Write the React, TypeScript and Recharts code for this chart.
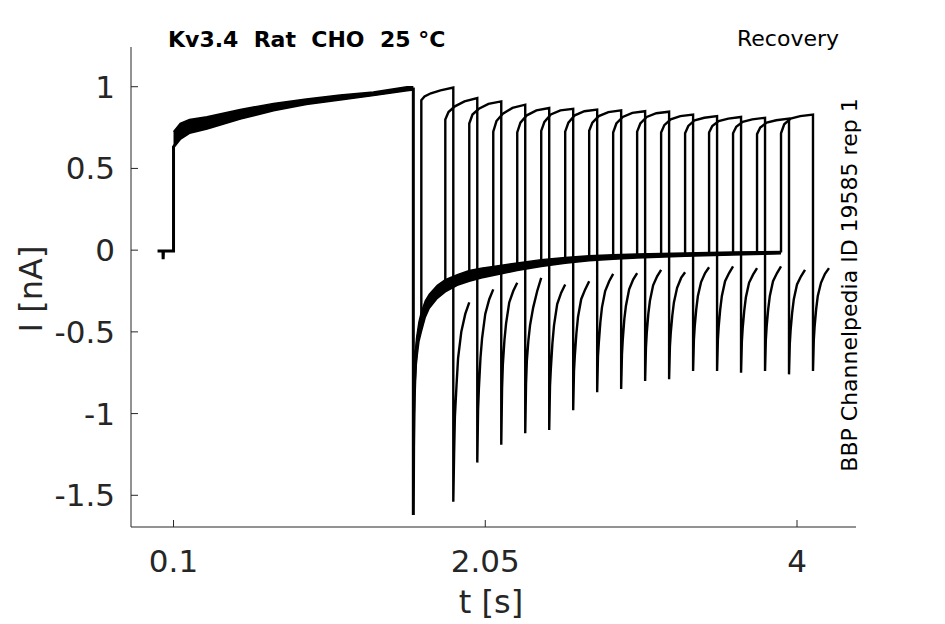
import { Area, ComposedChart, Line, XAxis, YAxis } from "recharts";

const ink = "#000000";
const axisGrey = "#262626";
const font = "'DejaVu Sans', sans-serif";

// holding level before the conditioning pulse (t in s, I in nA)
const holdT = [0, 0.034, 0.035, 0.037, 0.1];
const holdI = [-0.005, -0.005, -0.055, -0.005, -0.005];

// conditioning pulse: all sweeps overlap into a band
const stepT = [0.1, 0.142, 0.2, 0.309, 0.517, 0.725, 0.93, 1.142, 1.35, 1.56, 1.6];
const stepLo = [0.633, 0.684, 0.72, 0.745, 0.806, 0.857, 0.895, 0.923, 0.95, 0.98, 0.985];
const stepHi = [0.725, 0.776, 0.8, 0.816, 0.861, 0.898, 0.925, 0.949, 0.968, 1.0, 1.0];

// tail + recovery after the conditioning pulse
const recT = [
  1.6, 1.602, 1.606, 1.612, 1.62, 1.635, 1.65, 1.675, 1.7, 1.75, 1.8, 1.875,
  1.95, 2.025, 2.1, 2.25, 2.4, 2.55, 2.7, 2.85, 3.0, 3.15, 3.3, 3.45, 3.6,
  3.75, 3.9,
];
const recI = [
  -1.62, -1.2, -0.9, -0.72, -0.6, -0.49, -0.44, -0.36, -0.31, -0.255, -0.218,
  -0.183, -0.158, -0.14, -0.128, -0.1, -0.079, -0.062, -0.05, -0.041, -0.036,
  -0.031, -0.028, -0.024, -0.021, -0.018, -0.015,
];
const recBandT = [
  1.602, 1.606, 1.612, 1.62, 1.635, 1.65, 1.675, 1.7, 1.75, 1.8, 1.875, 1.95,
  2.025, 2.1, 2.25, 2.4, 2.55, 2.7, 2.85, 3.0, 3.3, 3.6, 3.9,
];
const recBandLo = [
  -1.35, -1.0, -0.8, -0.68, -0.56, -0.5, -0.41, -0.355, -0.295, -0.255, -0.215,
  -0.19, -0.17, -0.155, -0.125, -0.1, -0.08, -0.065, -0.055, -0.048, -0.038,
  -0.03, -0.022,
];
const recBandHi = [
  -1.1, -0.8, -0.64, -0.54, -0.44, -0.38, -0.31, -0.27, -0.215, -0.18, -0.15,
  -0.125, -0.11, -0.1, -0.078, -0.058, -0.045, -0.035, -0.028, -0.024, -0.018,
  -0.012, -0.008,
];

// test pulses (one per sweep)
const pulseStart = [
  1.65, 1.8, 1.95, 2.1, 2.25, 2.4, 2.55, 2.7, 2.85, 3.0, 3.15, 3.3, 3.45, 3.6,
  3.75, 3.9,
];
const pulseOffset = [0, 0.02, 0.06, 0.12, 0.2];
const pulseTop = [
  [0.918, 0.94, 0.96, 0.978, 0.995],
  [0.8, 0.845, 0.88, 0.91, 0.93],
  [0.775, 0.83, 0.865, 0.895, 0.91],
  [0.725, 0.79, 0.835, 0.87, 0.89],
  [0.72, 0.78, 0.825, 0.855, 0.87],
  [0.73, 0.785, 0.83, 0.855, 0.865],
  [0.725, 0.78, 0.825, 0.85, 0.86],
  [0.73, 0.78, 0.82, 0.845, 0.855],
  [0.72, 0.775, 0.815, 0.84, 0.85],
  [0.725, 0.775, 0.815, 0.838, 0.847],
  [0.72, 0.765, 0.8, 0.82, 0.83],
  [0.715, 0.76, 0.795, 0.81, 0.82],
  [0.72, 0.76, 0.79, 0.805, 0.815],
  [0.715, 0.755, 0.785, 0.8, 0.81],
  [0.71, 0.75, 0.78, 0.795, 0.805],
  [0.715, 0.77, 0.805, 0.82, 0.83],
];
const tailOffset = [0.2, 0.205, 0.21, 0.22, 0.23, 0.25, 0.275, 0.3];
const tailI = [
  [-1.54, -1.25, -1.02, -0.83, -0.66, -0.5, -0.39, -0.32],
  [-1.3, -0.98, -0.85, -0.66, -0.54, -0.39, -0.3, -0.24],
  [-1.19, -0.85, -0.7, -0.55, -0.45, -0.32, -0.25, -0.2],
  [-1.12, -0.82, -0.68, -0.55, -0.46, -0.35, -0.25, -0.17],
  [-1.1, -0.83, -0.73, -0.57, -0.46, -0.33, -0.26, -0.21],
  [-0.98, -0.74, -0.65, -0.51, -0.41, -0.3, -0.24, -0.19],
  [-0.87, -0.65, -0.57, -0.44, -0.35, -0.25, -0.19, -0.145],
  [-0.85, -0.64, -0.55, -0.42, -0.34, -0.24, -0.18, -0.14],
  [-0.8, -0.6, -0.51, -0.39, -0.31, -0.215, -0.16, -0.12],
  [-0.79, -0.59, -0.51, -0.4, -0.32, -0.23, -0.17, -0.135],
  [-0.74, -0.55, -0.47, -0.36, -0.28, -0.195, -0.14, -0.105],
  [-0.74, -0.55, -0.47, -0.36, -0.28, -0.19, -0.14, -0.1],
  [-0.75, -0.56, -0.48, -0.37, -0.29, -0.2, -0.15, -0.11],
  [-0.74, -0.55, -0.47, -0.36, -0.28, -0.19, -0.14, -0.1],
  [-0.76, -0.57, -0.49, -0.38, -0.3, -0.21, -0.16, -0.12],
  [-0.74, -0.55, -0.47, -0.36, -0.28, -0.2, -0.145, -0.11],
];

const xTicks = [0.1, 2.05, 4];
const yTicks = [-1.5, -1, -0.5, 0, 0.5, 1];

type Pt = { t: number; i: number };
const zip = (ts: number[], is: number[]): Pt[] =>
  ts.map((t, k) => ({ t, i: is[k] }));

const mainTrace = [
  ...zip(holdT, holdI),
  ...zip(stepT, stepLo),
  ...zip(recT, recI),
];
const stepBand = stepT.map((t, k) => ({ t, band: [stepLo[k], stepHi[k]] }));
const recBand = recBandT.map((t, k) => ({
  t,
  band: [recBandLo[k], recBandHi[k]],
}));

const sweeps = pulseStart.map((t2, n) => {
  const base = recI[recT.indexOf(t2)];
  return [
    { t: t2, i: base },
    ...pulseOffset.map((o, k) => ({ t: t2 + o, i: pulseTop[n][k] })),
    ...tailOffset.map((o, k) => ({ t: t2 + o, i: tailI[n][k] })),
  ];
});

const App = () => {
  return (
    <div
      style={{
        position: "absolute",
        left: 0,
        top: 0,
        width: 945,
        height: 624,
        background: "#fff",
      }}
    >
      <ComposedChart
        width={945}
        height={624}
        margin={{ top: 47, right: 89, bottom: 0, left: 0 }}
      >
        <XAxis
          type="number"
          dataKey="t"
          domain={[-0.166, 4.369]}
          ticks={xTicks}
          interval={0}
          allowDataOverflow
          height={97}
          stroke={axisGrey}
          tickSize={-7}
          tickMargin={30}
          tick={{ fill: axisGrey, fontSize: 31, fontFamily: font }}
          tickFormatter={(v: number) => String(v)}
        />
        <YAxis
          type="number"
          domain={[-1.694, 1.243]}
          ticks={yTicks}
          interval={0}
          allowDataOverflow
          width={131}
          stroke={axisGrey}
          tickSize={-7}
          tickMargin={23}
          tick={{ fill: axisGrey, fontSize: 31, fontFamily: font }}
          tickFormatter={(v: number) => String(v)}
        />
        <Area
          data={stepBand}
          dataKey="band"
          type="linear"
          stroke={ink}
          strokeWidth={1.5}
          fill={ink}
          fillOpacity={1}
          dot={false}
          activeDot={false}
          isAnimationActive={false}
        />
        <Area
          data={recBand}
          dataKey="band"
          type="linear"
          stroke={ink}
          strokeWidth={1.5}
          fill={ink}
          fillOpacity={1}
          dot={false}
          activeDot={false}
          isAnimationActive={false}
        />
        <Line
          data={mainTrace}
          dataKey="i"
          type="linear"
          stroke={ink}
          strokeWidth={3}
          dot={false}
          activeDot={false}
          isAnimationActive={false}
        />
        {sweeps.map((d, n) => (
          <Line
            key={n}
            data={d}
            dataKey="i"
            type="linear"
            stroke={ink}
            strokeWidth={2.4}
            dot={false}
            activeDot={false}
            isAnimationActive={false}
          />
        ))}
        <text
          x={168}
          y={47}
          fontFamily={font}
          fontSize={22}
          fontWeight="bold"
          fill={ink}
          style={{ whiteSpace: "pre" }}
        >
          {"Kv3.4  Rat  CHO  25 °C"}
        </text>
        <text x={737} y={46} fontFamily={font} fontSize={22} fill={ink}>
          Recovery
        </text>
        <text
          x={857}
          y={285}
          fontFamily={font}
          fontSize={22}
          fill={ink}
          textAnchor="middle"
          transform="rotate(-90 857 285)"
        >
          BBP Channelpedia ID 19585 rep 1
        </text>
        <text
          x={491}
          y={613}
          fontFamily={font}
          fontSize={32}
          fill={axisGrey}
          textAnchor="middle"
        >
          t [s]
        </text>
        <text
          x={42}
          y={289}
          fontFamily={font}
          fontSize={32}
          fill={axisGrey}
          textAnchor="middle"
          transform="rotate(-90 42 289)"
        >
          I [nA]
        </text>
      </ComposedChart>
    </div>
  );
};

export default App;
